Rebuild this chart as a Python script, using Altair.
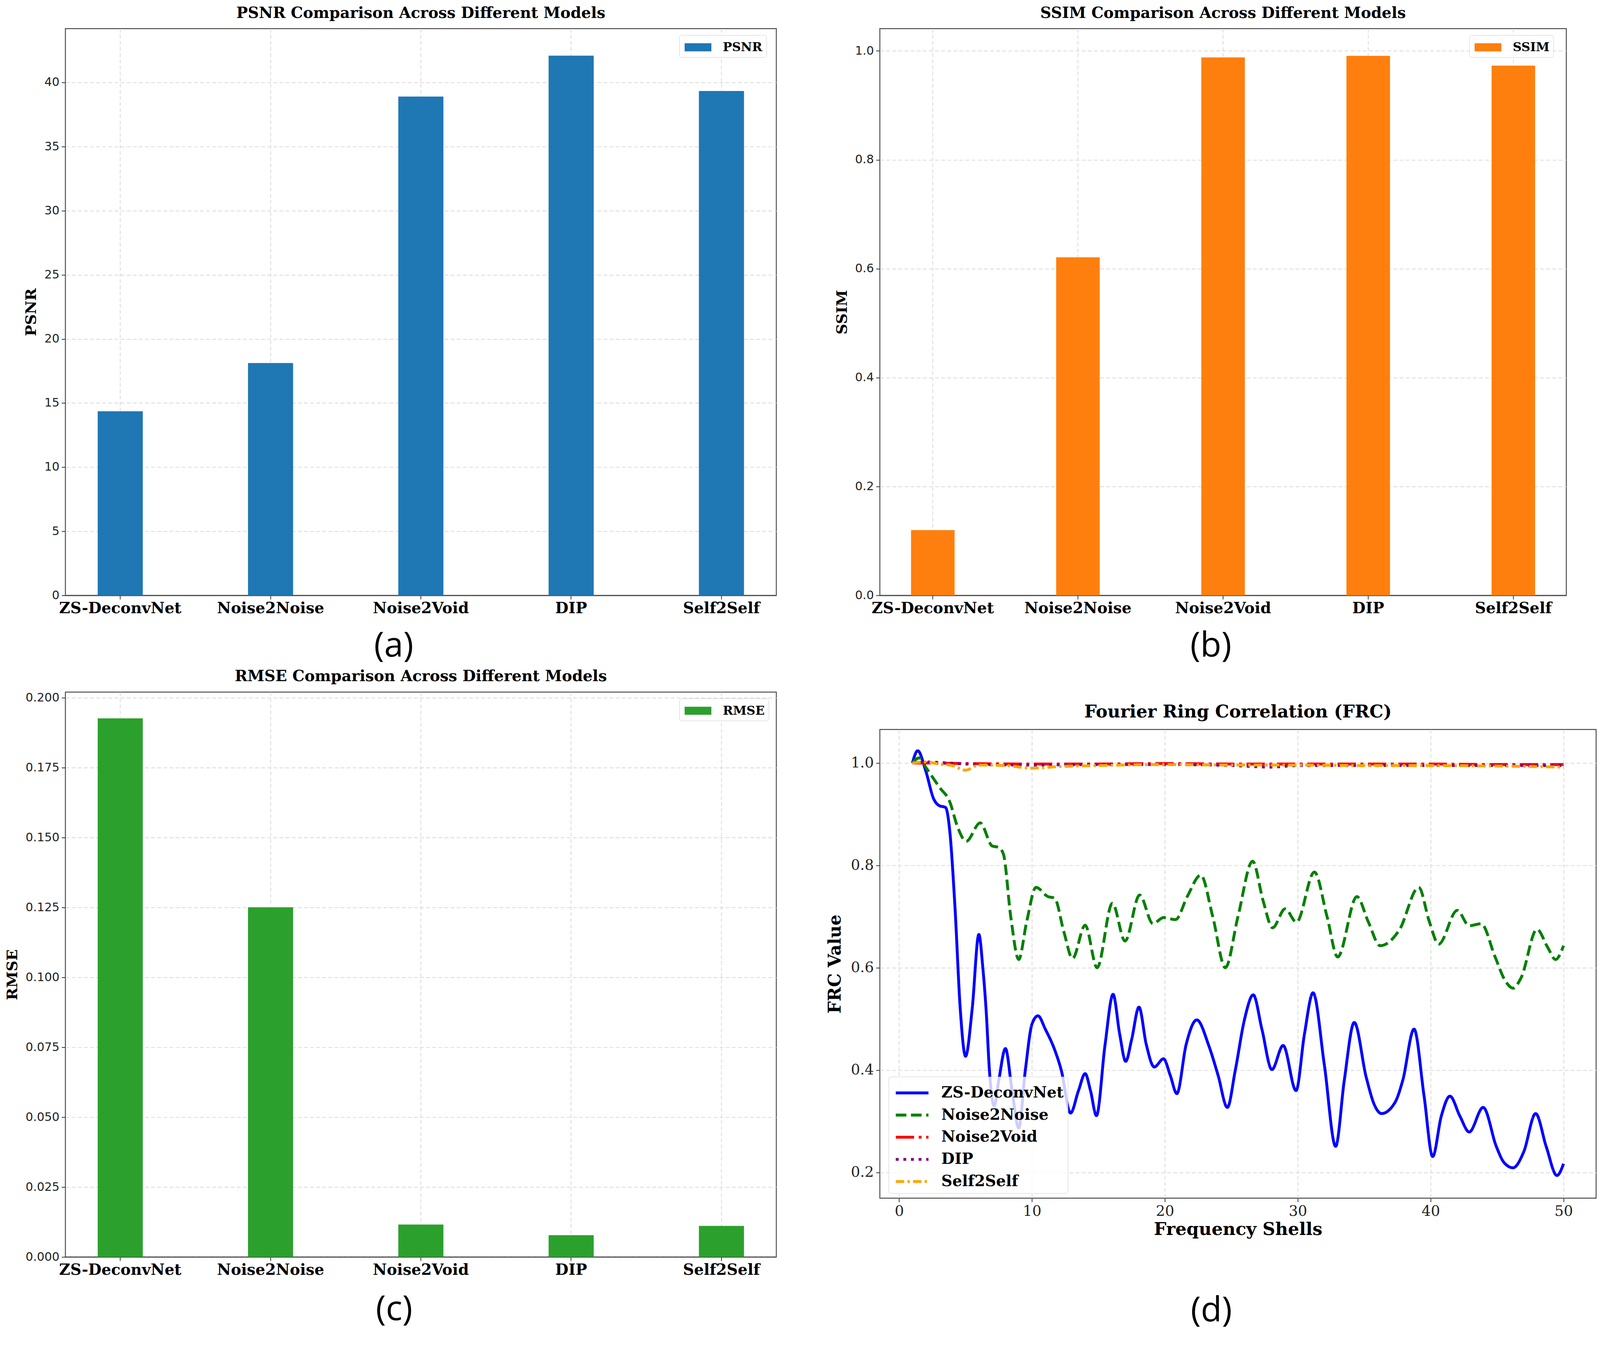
import altair as alt
import pandas as pd

# ---------------- data ----------------
models = ["ZS-DeconvNet", "Noise2Noise", "Noise2Void", "DIP", "Self2Self"]
psnr = [14.36, 18.12, 38.90, 42.09, 39.33]
ssim = [0.120, 0.621, 0.988, 0.991, 0.973]
rmse = [0.1927, 0.1251, 0.0116, 0.0078, 0.0111]

psnr_ticks = [0, 5, 10, 15, 20, 25, 30, 35, 40]
ssim_ticks = [0.0, 0.2, 0.4, 0.6, 0.8, 1.0]
rmse_ticks = [0.0, 0.025, 0.05, 0.075, 0.1, 0.125, 0.15, 0.175, 0.2]

frc_names = ["ZS-DeconvNet", "Noise2Noise", "Noise2Void", "DIP", "Self2Self"]
frc_colors = ["blue", "green", "red", "purple", "orange"]

zs_x = [1, 1.4, 2, 2.6, 3, 3.5, 3.8, 4.2, 4.6, 5, 5.5, 6, 6.3, 6.55, 6.8, 7.15, 7.5,
        8, 8.5, 9, 9.5, 10, 10.45, 11, 11.7, 12.2, 12.9, 13.5, 14, 14.4, 14.85, 15.5,
        16.1, 16.6, 17.05, 17.5, 18.05, 18.6, 19.2, 19.9, 20.4, 20.9, 21.6, 22.4, 23.3,
        24.0, 24.7, 25.3, 26.0, 26.65, 27.3, 28.05, 28.9, 29.87, 30.5, 31.15, 32.0,
        32.85, 33.5, 34.25, 35.15, 35.8, 36.3, 37.3, 37.9, 38.75, 39.5, 40.15, 40.8,
        41.45, 42.2, 42.9, 43.95, 44.95, 45.5, 46.2, 47.0, 47.9, 48.7, 49.5, 50]
zs_y = [1.0, 1.024, 0.985, 0.93, 0.917, 0.913, 0.87, 0.72, 0.52, 0.427, 0.52, 0.665,
        0.6, 0.516, 0.398, 0.33, 0.38, 0.442, 0.36, 0.287, 0.40, 0.49, 0.506, 0.48,
        0.44, 0.40, 0.316, 0.36, 0.393, 0.36, 0.311, 0.45, 0.548, 0.47, 0.417, 0.46,
        0.523, 0.45, 0.406, 0.422, 0.39, 0.354, 0.45, 0.498, 0.448, 0.39, 0.327, 0.40,
        0.50, 0.547, 0.48, 0.401, 0.448, 0.36, 0.47, 0.551, 0.41, 0.251, 0.38, 0.493,
        0.386, 0.33, 0.315, 0.336, 0.38, 0.48, 0.35, 0.231, 0.31, 0.349, 0.31, 0.279,
        0.327, 0.25, 0.22, 0.209, 0.24, 0.315, 0.25, 0.194, 0.217]

n2n_x = [1, 1.5, 2.05, 3.05, 3.8, 4.4, 5.05, 6.1, 7.0, 7.5, 7.85, 8.4, 9.0, 9.6,
         10.3, 11.2, 11.7, 12.4, 13.05, 14.0, 14.9, 16.05, 17.0, 18.1, 19.1, 19.9,
         20.8, 21.7, 22.7, 23.6, 24.55, 25.5, 26.6, 27.4, 28.1, 29.05, 29.9, 31.25,
         32.2, 33.0, 34.45, 35.3, 36.2, 37.65, 39.1, 39.9, 40.6, 42.0, 42.9, 43.8,
         44.85, 45.6, 46.2, 46.8, 48.0, 48.8, 49.4, 50]
n2n_y = [1.0, 1.01, 0.99, 0.952, 0.925, 0.875, 0.847, 0.883, 0.838, 0.835, 0.822,
         0.70, 0.616, 0.69, 0.757, 0.739, 0.736, 0.67, 0.618, 0.683, 0.600, 0.726,
         0.652, 0.742, 0.686, 0.698, 0.694, 0.74, 0.781, 0.70, 0.600, 0.70, 0.808,
         0.73, 0.678, 0.715, 0.689, 0.787, 0.70, 0.621, 0.739, 0.69, 0.643, 0.674,
         0.757, 0.69, 0.646, 0.712, 0.682, 0.686, 0.621, 0.575, 0.56, 0.58, 0.675,
         0.64, 0.616, 0.643]

n2v_x = [1, 2, 5, 10, 15, 20, 25, 30, 35, 40, 45, 50]
n2v_y = [1.0, 1.0, 0.999, 0.998, 0.998, 0.999, 0.998, 0.998, 0.998, 0.998, 0.997, 0.997]

dip_x = [1, 2, 5, 10, 15, 20, 25, 28, 30, 35, 40, 45, 50]
dip_y = [1.0, 1.002, 0.998, 0.996, 0.997, 0.997, 0.995, 0.992, 0.995, 0.995, 0.995, 0.995, 0.995]

s2s_x = [1, 2, 3, 4, 5, 6, 8, 10, 12, 15, 20, 25, 30, 35, 40, 45, 50]
s2s_y = [1.0, 1.002, 0.998, 0.995, 0.986, 0.996, 0.995, 0.990, 0.993, 0.995, 0.997,
         0.996, 0.996, 0.995, 0.995, 0.994, 0.992]

# ---------------- styling helpers ----------------
SERIF = "DejaVu Serif"
SANS = "DejaVu Sans"
CAPTION_FONT = "Open Sans"
FRAME = "#4d4d4d"
GRID = dict(grid=True, gridColor="#d9d9d9", gridDash=[10, 6], gridWidth=2)
TICK = dict(ticks=True, tickSize=10, tickWidth=2, tickColor="#333333")
RECT_PATH = "M-1.667,-0.5L1.667,-0.5L1.667,0.5L-1.667,0.5Z"
LINE_PATH = "M-1.5,0L1.5,0"
LEGEND_FILL = "rgba(255,255,255,0.8)"


def bar_panel(values, metric, color, ymax, ticks, fmt, title, caption, width, height,
              cap_x, cap_y):
    df = pd.DataFrame({"Model": models, "Value": values, "Metric": [metric] * len(models)})
    return alt.Chart(df).mark_bar().encode(
        x=alt.X("Model:N", sort=models, title=caption,
                scale=alt.Scale(paddingInner=0.7, paddingOuter=0.215),
                axis=alt.Axis(labelAngle=0, labelFont=SERIF, labelFontWeight="bold",
                              labelFontSize=40, labelColor="black", labelPadding=4,
                              labelLimit=0, bandPosition=0.5,
                              titleFont=CAPTION_FONT, titleFontSize=90,
                              titleFontWeight="normal", titleColor="black",
                              titleX=cap_x, titleY=cap_y, titleBaseline="middle",
                              titleAnchor="start", titleAlign="center",
                              domain=True, domainColor=FRAME, domainWidth=2.5,
                              **GRID, **TICK)),
        y=alt.Y("Value:Q", title=metric,
                scale=alt.Scale(domain=[0, ymax], nice=False, zero=True),
                axis=alt.Axis(values=ticks, format=fmt, labelFont=SANS, labelFontSize=31,
                              labelColor="#222222", labelPadding=6, domain=False,
                              titleFont=SERIF, titleFontWeight="bold", titleFontSize=39,
                              titleColor="black", titlePadding=14, **GRID, **TICK)),
        color=alt.Color("Metric:N", scale=alt.Scale(domain=[metric], range=[color]),
                        legend=alt.Legend(title=None, orient="none",
                                          legendX=width - 254, legendY=17,
                                          padding=10, strokeColor="#cccccc",
                                          fillColor=LEGEND_FILL, cornerRadius=6,
                                          labelFont=SERIF, labelFontWeight="bold",
                                          labelFontSize=32, labelColor="black",
                                          labelLimit=0,
                                          symbolType=RECT_PATH, symbolSize=1764,
                                          symbolOpacity=1, symbolOffset=17,
                                          labelOffset=43)),
    ).properties(
        width=width, height=height,
        title=alt.Title(title, font=SERIF, fontWeight="bold", fontSize=40, color="black",
                        frame="group", anchor="middle", baseline="alphabetic", offset=-12),
    )


# ---------------- FRC panel ----------------
frames = []
for name, xs, ys in [("ZS-DeconvNet", zs_x, zs_y), ("Noise2Noise", n2n_x, n2n_y),
                     ("Noise2Void", n2v_x, n2v_y), ("DIP", dip_x, dip_y),
                     ("Self2Self", s2s_x, s2s_y)]:
    frames.append(pd.DataFrame({"shell": xs, "frc": ys, "Model": name}))
frc_df = pd.concat(frames, ignore_index=True)

lw = 7.5
dashes = [[1, 0], [27.75, 12], [48, 12, 7.5, 12], [7.5, 12.4], [22, 8.5, 6, 8.5]]

frc_legend = dict(title=None, orient="none", legendX=23, legendY=909, padding=10,
                  strokeColor="#cccccc", fillColor=LEGEND_FILL, cornerRadius=6,
                  labelFont=SERIF, labelFontWeight="bold", labelFontSize=40,
                  labelColor="black", labelLimit=0, symbolType=LINE_PATH,
                  symbolSize=3249, symbolStrokeWidth=lw, rowPadding=5,
                  symbolOffset=19, labelOffset=44)

frc_chart = alt.Chart(frc_df).mark_line(strokeWidth=lw, interpolate="monotone",
                                        strokeCap="butt").encode(
    x=alt.X("shell:Q", title="Frequency Shells",
            scale=alt.Scale(domain=[-1.45, 52.45], nice=False, zero=False),
            axis=alt.Axis(values=[0, 10, 20, 30, 40, 50], labelFont=SERIF, labelFontSize=38,
                          labelColor="#222222", labelPadding=6, titleFont=SERIF,
                          titleFontWeight="bold", titleFontSize=46, titleColor="black",
                          titlePadding=6, domain=False, **GRID, **TICK)),
    y=alt.Y("frc:Q", title="FRC Value",
            scale=alt.Scale(domain=[0.1497, 1.0655], nice=False, zero=False),
            axis=alt.Axis(values=[0.2, 0.4, 0.6, 0.8, 1.0], format=".1f", labelFont=SERIF,
                          labelFontSize=38, labelColor="#222222", labelPadding=6,
                          titleFont=SERIF, titleFontWeight="bold", titleFontSize=45,
                          titleColor="black", titlePadding=18, domain=False,
                          **GRID, **TICK)),
    color=alt.Color("Model:N", sort=frc_names,
                    scale=alt.Scale(domain=frc_names, range=frc_colors),
                    legend=alt.Legend(**frc_legend)),
    strokeDash=alt.StrokeDash("Model:N", sort=frc_names,
                              scale=alt.Scale(domain=frc_names, range=dashes),
                              legend=alt.Legend(**frc_legend)),
    order=alt.Order("shell:Q"),
).properties(
    width=1875, height=1227,
    title=alt.Title("Fourier Ring Correlation (FRC)", font=SERIF, fontWeight="bold",
                    fontSize=46, color="black", frame="group", anchor="middle",
                    baseline="alphabetic", offset=-15),
)

panel_a = bar_panel(psnr, "PSNR", "#1f77b4", 44.2, psnr_ticks, "d",
                    "PSNR Comparison Across Different Models", "(a)", 1861, 1484, 859, 133)
panel_b = bar_panel(ssim, "SSIM", "#ff7f0e", 1.041, ssim_ticks, ".1f",
                    "SSIM Comparison Across Different Models", "(b)", 1797, 1484, 866, 133)
panel_c = bar_panel(rmse, "RMSE", "#2ca02c", 0.2021, rmse_ticks, ".3f",
                    "RMSE Comparison Across Different Models", "(c)", 1861, 1479, 860, 138)

col1 = alt.vconcat(panel_a, panel_c, spacing=253, bounds="flush").resolve_scale(
    color="independent").resolve_legend(color="independent")
col2 = alt.vconcat(panel_b, frc_chart, spacing=351, bounds="flush").properties(
    title=alt.Title("(d)", orient="bottom", font=CAPTION_FONT, fontSize=90,
                    fontWeight="normal", color="black", anchor="middle", offset=145)
).resolve_scale(color="independent", strokeDash="independent").resolve_legend(
    color="independent", strokeDash="independent")

chart = alt.hconcat(col1, col2, spacing=128).resolve_scale(
    color="independent", strokeDash="independent").resolve_legend(
    color="independent", strokeDash="independent").properties(
    padding={"left": 4, "top": -34, "right": 0, "bottom": 0},
    background="white",
).configure_view(stroke=FRAME, strokeWidth=2.5)

chart.save("out.html", embed_options={"renderer": "svg", "actions": False})
